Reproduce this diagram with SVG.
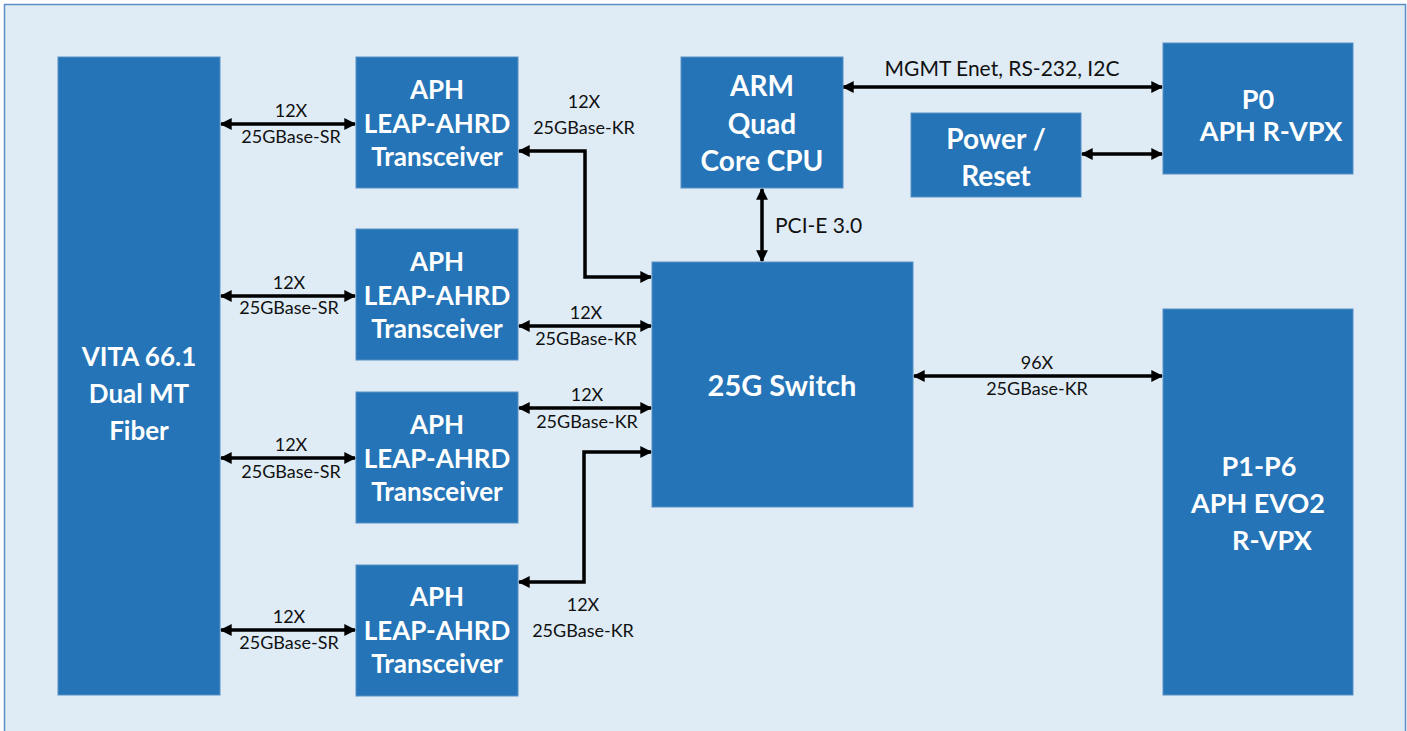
<svg xmlns="http://www.w3.org/2000/svg" width="1407" height="731" viewBox="0 0 1407 731">
<defs>
<style>
.box{fill:#2474B7;stroke:#5A8FC4;stroke-width:1}
.bt{font-family:Lato,"Open Sans","Liberation Sans",sans-serif;font-weight:bold;font-size:26px;fill:#fff;text-anchor:middle}
.lt{font-family:Lato,"Open Sans","Liberation Sans",sans-serif;font-size:18px;fill:#111;text-anchor:middle}
.big{font-size:21px}
.ln{fill:none;stroke:#000;stroke-width:3.5;marker-start:url(#ah);marker-end:url(#ah)}
</style>
<marker id="ah" viewBox="0 0 10 10" refX="9" refY="5" markerWidth="4" markerHeight="3.4" orient="auto-start-reverse" markerUnits="strokeWidth">
<path d="M0,0 L10,5 L0,10 z" fill="#000"/>
</marker>
</defs>
<rect x="0" y="0" width="1407" height="731" fill="#fff"/>
<rect x="4.5" y="4.5" width="1401" height="740" fill="#DFECF6" stroke="#5A8FC4" stroke-width="1.5"/>

<g id="connectors">
<path class="ln" d="M221,124 H355"/>
<path class="ln" d="M221,296 H355"/>
<path class="ln" d="M221,458 H355"/>
<path class="ln" d="M221,630 H355"/>
<path class="ln" d="M519,151 H585 V277 H651"/>
<path class="ln" d="M519,326 H651"/>
<path class="ln" d="M519,408 H651"/>
<path class="ln" d="M651,452 H584 V582 H519"/>
<path class="ln" d="M762,189 V261"/>
<path class="ln" d="M843,87 H1162"/>
<path class="ln" d="M1082,154 H1162"/>
<path class="ln" d="M914,376 H1162"/>
<text class="lt" x="291" y="117">12X</text>
<text class="lt" x="291" y="143">25GBase-SR</text>
<text class="lt" x="289" y="289">12X</text>
<text class="lt" x="289" y="314">25GBase-SR</text>
<text class="lt" x="291" y="451">12X</text>
<text class="lt" x="291" y="478">25GBase-SR</text>
<text class="lt" x="289" y="623">12X</text>
<text class="lt" x="289" y="649">25GBase-SR</text>
<text class="lt" x="584" y="108">12X</text>
<text class="lt" x="584" y="134">25GBase-KR</text>
<text class="lt" x="586" y="319">12X</text>
<text class="lt" x="586" y="345">25GBase-KR</text>
<text class="lt" x="587" y="401">12X</text>
<text class="lt" x="587" y="428">25GBase-KR</text>
<text class="lt" x="583" y="611">12X</text>
<text class="lt" x="583" y="637">25GBase-KR</text>
<text class="lt big" x="775" y="233" style="text-anchor:start">PCI-E 3.0</text>
<text class="lt big" x="1002" y="76">MGMT Enet, RS-232, I2C</text>
<text class="lt" x="1037" y="369">96X</text>
<text class="lt" x="1037" y="395">25GBase-KR</text>
</g>

<g id="vita">
<rect class="box" x="58" y="57" width="162" height="638"/>
<text class="bt" x="139" y="366">VITA 66.1</text>
<text class="bt" x="139" y="403">Dual MT</text>
<text class="bt" x="139" y="440">Fiber</text>
</g>
<g id="trx1">
<rect class="box" x="356" y="57" width="162" height="131"/>
<text class="bt" x="437" y="99">APH</text>
<text class="bt" x="437" y="133">LEAP-AHRD</text>
<text class="bt" x="437" y="166">Transceiver</text>
</g>
<g id="trx2">
<rect class="box" x="356" y="229" width="162" height="131"/>
<text class="bt" x="437" y="271">APH</text>
<text class="bt" x="437" y="305">LEAP-AHRD</text>
<text class="bt" x="437" y="338">Transceiver</text>
</g>
<g id="trx3">
<rect class="box" x="356" y="392" width="162" height="131"/>
<text class="bt" x="437" y="434">APH</text>
<text class="bt" x="437" y="468">LEAP-AHRD</text>
<text class="bt" x="437" y="501">Transceiver</text>
</g>
<g id="trx4">
<rect class="box" x="356" y="565" width="162" height="131"/>
<text class="bt" x="437" y="606">APH</text>
<text class="bt" x="437" y="640">LEAP-AHRD</text>
<text class="bt" x="437" y="673">Transceiver</text>
</g>
<g id="arm">
<rect class="box" x="681" y="57" width="162" height="131"/>
<text class="bt" x="762" y="96" style="font-size:28px">ARM</text>
<text class="bt" x="762" y="134" style="font-size:28px">Quad</text>
<text class="bt" x="762" y="171" style="font-size:28px">Core CPU</text>
</g>
<g id="switch">
<rect class="box" x="652" y="262" width="261" height="245"/>
<text class="bt" x="782" y="396" style="font-size:29px">25G Switch</text>
</g>
<g id="power">
<rect class="box" x="911" y="113" width="170" height="84"/>
<text class="bt" x="996" y="149" style="font-size:28px">Power /</text>
<text class="bt" x="996" y="186" style="font-size:28px">Reset</text>
</g>
<g id="p0">
<rect class="box" x="1163" y="43" width="190" height="131"/>
<text class="bt" x="1258" y="109" style="font-size:27px">P0</text>
<text class="bt" x="1271" y="141" style="font-size:27px">APH R-VPX</text>
</g>
<g id="p1p6">
<rect class="box" x="1163" y="309" width="190" height="386"/>
<text class="bt" x="1259" y="476" style="font-size:27px">P1-P6</text>
<text class="bt" x="1258" y="513" style="font-size:27px">APH EVO2</text>
<text class="bt" x="1272" y="550" style="font-size:27px">R-VPX</text>
</g>
</svg>
